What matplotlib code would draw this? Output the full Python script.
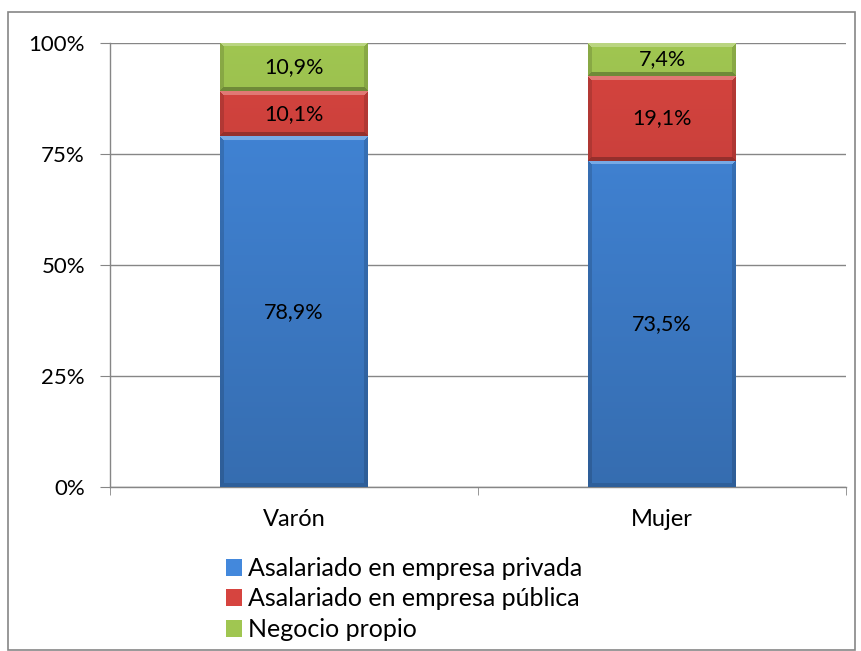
import numpy as np
import matplotlib.pyplot as plt
from matplotlib.patches import Patch, Rectangle
from matplotlib.colors import to_rgb

categories = ["Varón", "Mujer"]
series_names = ["Asalariado en empresa privada", "Asalariado en empresa pública", "Negocio propio"]
privada = [78.9, 73.5]
publica = [10.1, 19.1]
propio = [10.9, 7.4]
labels_privada = ["78,9%", "73,5%"]
labels_publica = ["10,1%", "19,1%"]
labels_propio = ["10,9%", "7,4%"]
yticklabels = ["0%", "25%", "50%", "75%", "100%"]

colors = ["#4388DC", "#D6443F", "#A0C651"]

plt.rcParams['font.family'] = ['Lato', 'DejaVu Sans']

fig = plt.figure(figsize=(8.61, 6.51), dpi=100)
W, H = 861, 651
ax_l, ax_r, ax_t, ax_b = 110, 846, 43, 487
ax = fig.add_axes([ax_l / W, 1 - ax_b / H, (ax_r - ax_l) / W, (ax_b - ax_t) / H])

# outer border
fig.patches.append(Rectangle((8 / W, 1 / H), (855 - 8) / W, (651 - 13) / H, transform=fig.transFigure,
                             fill=False, edgecolor="#868686", linewidth=1.2))

x = np.arange(len(categories))
width = 0.4
px_per_y = (ax_b - ax_t) / 100.0
px_per_x = (ax_r - ax_l) / 2.0

def shade(ax, x0, y0, w, h, color):
    base = np.array(to_rgb(color))
    ny = max(int(round(h * px_per_y)), 2)
    nx = max(int(round(w * px_per_x)), 2)
    ys = y0 + (np.arange(ny) + 0.5) / ny * h
    g = 0.80 + 0.20 * (ys / 100.0)
    img = np.tile((base[None, :] * g[:, None])[:, None, :], (1, nx, 1))
    b = 4
    rows = np.arange(ny)[:, None]
    cols = np.arange(nx)[None, :]
    side = np.minimum(cols, nx - 1 - cols)
    dist_b = rows
    dist_t = ny - 1 - rows
    top = (dist_t < b) & (dist_t <= side)
    bot = (dist_b < b) & (dist_b <= side) & ~top
    sides = (side < b) & ~top & ~bot
    out = img.copy()
    light = base + 0.28 * (1 - base)
    out[top] = light
    out[bot] = base * 0.70
    out[sides] = img[sides] * 0.86
    out = np.clip(out, 0, 1)
    ax.imshow(out, extent=(x0, x0 + w, y0, y0 + h), origin="lower",
              aspect="auto", interpolation="nearest", zorder=3)

bottoms = np.zeros(len(categories))
all_series = [privada, publica, propio]
all_labels = [labels_privada, labels_publica, labels_propio]
totals = np.array(privada) + np.array(publica) + np.array(propio)
for vals, labs, col in zip(all_series, all_labels, colors):
    v = np.array(vals) / totals * 100
    for i in range(len(categories)):
        shade(ax, x[i] - width / 2, bottoms[i], width, v[i], col)
        ax.text(x[i], bottoms[i] + v[i] / 2, labs[i], ha="center", va="center",
                fontsize=15.5, color="black", zorder=5)
    bottoms += v

ax.set_xlim(-0.5, 1.5)
ax.set_ylim(0, 100)
ax.set_yticks([0, 25, 50, 75, 100])
ax.set_yticklabels(yticklabels, fontsize=16)
ax.set_xticks(x)
ax.set_xticklabels(categories, fontsize=17)
ax.tick_params(axis="x", length=0, pad=16)
ax.set_xticks([-0.5, 0.5, 1.5], minor=True)
ax.tick_params(axis="x", which="minor", length=6, color="#868686", direction="out")
ax.tick_params(axis="y", length=7, color="#868686", direction="out", pad=11)
ax.grid(axis="y", color="#868686", linewidth=1.0, zorder=0)
ax.set_axisbelow(True)
for s in ["top", "right"]:
    ax.spines[s].set_visible(False)
for s in ["left", "bottom"]:
    ax.spines[s].set_color("#868686")
    ax.spines[s].set_linewidth(1.0)

handles = [Patch(facecolor=c, edgecolor="none") for c in colors]
fig.legend(handles, series_names, loc="upper left", bbox_to_anchor=(226 / W, 1 - 557 / H),
           frameon=False, fontsize=18, handlelength=0.65, handleheight=0.65,
           handletextpad=0.25, labelspacing=0.3, borderpad=0, borderaxespad=0)

fig.savefig("out.png", dpi=100)
